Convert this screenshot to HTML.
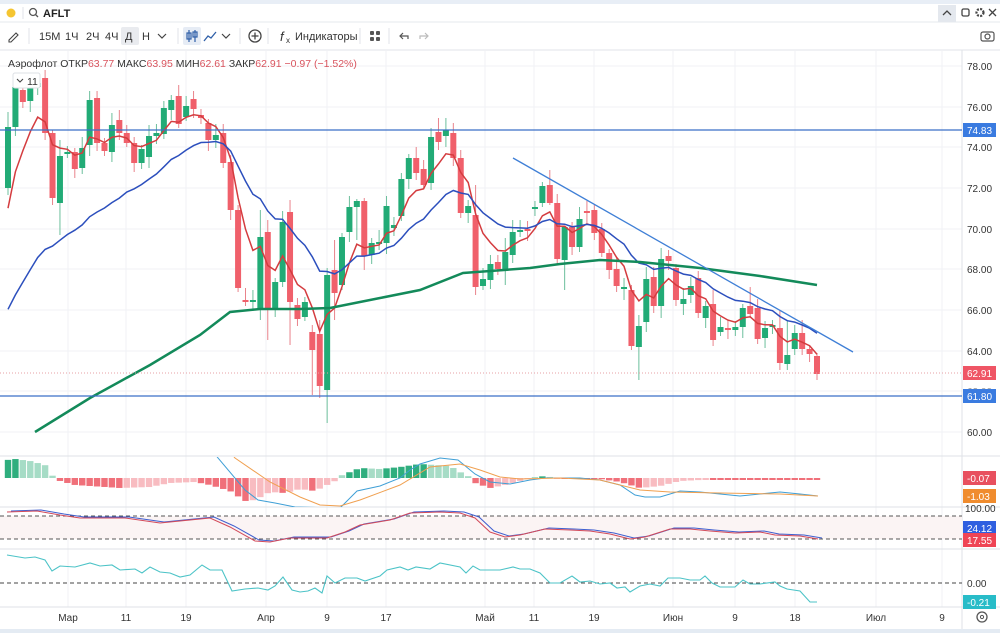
<!DOCTYPE html>
<html><head><meta charset="utf-8">
<style>
html,body{margin:0;padding:0;background:#fff;width:1000px;height:633px;overflow:hidden;font-family:"Liberation Sans","DejaVu Sans",sans-serif;}
svg text{font-family:"Liberation Sans","DejaVu Sans",sans-serif;}
</style></head>
<body>
<svg id="s" width="1000" height="633" xmlns="http://www.w3.org/2000/svg">
<rect x="0" y="0" width="1000" height="633" fill="#fff"/>
<rect x="0" y="0" width="1000" height="4" fill="#e8eef6"/>
<line x1="0" y1="22" x2="1000" y2="22" stroke="#e6e8ec"/>
<line x1="0" y1="50" x2="1000" y2="50" stroke="#e0e3e8"/>
<circle cx="11" cy="13" r="4.5" fill="#f5c531"/>
<line x1="23" y1="7" x2="23" y2="19" stroke="#e0e3e8"/>
<circle cx="33" cy="12" r="3.5" fill="none" stroke="#555" stroke-width="1.3"/>
<line x1="35.5" y1="14.5" x2="38" y2="17" stroke="#555" stroke-width="1.3"/>
<text x="43" y="17" font-size="11" font-weight="bold" fill="#222">AFLT</text>
<rect x="938" y="5" width="18" height="17" fill="#e4e8ee"/>
<path d="M943 15 L947 11 L951 15" fill="none" stroke="#444" stroke-width="1.3"/>
<rect x="962" y="9" width="7" height="7" rx="1.5" fill="none" stroke="#444" stroke-width="1.3"/>
<circle cx="980" cy="12.5" r="3.5" fill="none" stroke="#444" stroke-width="2.2" stroke-dasharray="2 1.3"/>
<path d="M989 9 L996 16 M996 9 L989 16" stroke="#444" stroke-width="1.3"/>
<!-- toolbar -->
<path d="M9 40 L16 33 L18 35 L11 42 L9 42 Z" fill="none" stroke="#444" stroke-width="1.1"/>
<line x1="29" y1="28" x2="29" y2="44" stroke="#e0e3e8"/>
<g font-size="11" fill="#333">
<text x="39" y="40">15M</text><text x="65" y="40">1Ч</text><text x="86" y="40">2Ч</text><text x="105" y="40">4Ч</text>
<rect x="121" y="27" width="18" height="18" rx="2" fill="#e9ebef"/>
<text x="125" y="40">Д</text><text x="142" y="40">Н</text>
</g>
<path d="M158 34 L162 38 L166 34" fill="none" stroke="#444" stroke-width="1.2"/>
<line x1="178" y1="28" x2="178" y2="44" stroke="#e0e3e8"/>
<rect x="183" y="27" width="18" height="18" rx="2" fill="#e6ecf5"/>
<g stroke="#2f5fa8" stroke-width="1.2" fill="none"><line x1="189" y1="30" x2="189" y2="42"/><rect x="187" y="33" width="4" height="6"/><line x1="195" y1="30" x2="195" y2="42"/><rect x="193" y="32" width="4" height="5"/></g>
<path d="M204 41 L208 36 L211 38 L216 32" fill="none" stroke="#2f5fa8" stroke-width="1.3"/>
<path d="M222 34 L226 38 L230 34" fill="none" stroke="#444" stroke-width="1.2"/>
<line x1="240" y1="28" x2="240" y2="44" stroke="#e0e3e8"/>
<circle cx="255" cy="36" r="6" fill="none" stroke="#444" stroke-width="1.3"/>
<path d="M255 32.5 V39.5 M251.5 36 H258.5" stroke="#444" stroke-width="1.3"/>
<line x1="268" y1="28" x2="268" y2="44" stroke="#e0e3e8"/>
<text x="280" y="41" font-size="13" font-style="italic" fill="#333">f</text><text x="286" y="43" font-size="8" fill="#333">x</text>
<text x="295" y="40" font-size="11" fill="#333">Индикаторы</text>
<line x1="360" y1="28" x2="360" y2="44" stroke="#e0e3e8"/>
<g fill="#555"><rect x="370" y="31" width="4" height="4" rx="1"/><rect x="376" y="31" width="4" height="4" rx="1"/><rect x="370" y="37" width="4" height="4" rx="1"/><rect x="376" y="37" width="4" height="4" rx="1"/></g>
<line x1="389" y1="28" x2="389" y2="44" stroke="#e0e3e8"/>
<path d="M408 39 V36 H400 M403 33 L400 36 L403 39" fill="none" stroke="#555" stroke-width="1.2"/>
<path d="M420 39 V36 H428 M425 33 L428 36 L425 39" fill="none" stroke="#bbb" stroke-width="1.2"/>
<rect x="981" y="32" width="13" height="9" rx="2" fill="none" stroke="#555" stroke-width="1.2"/>
<circle cx="987.5" cy="36.5" r="2.5" fill="none" stroke="#555" stroke-width="1.2"/>
<g id="grid"></g>
<g id="main"></g>
<g id="ind"></g>
<g id="axis"></g>
</svg>
<script>
var NS="http://www.w3.org/2000/svg";
function el(p,t,a,txt){var e=document.createElementNS(NS,t);for(var k in a)e.setAttribute(k,a[k]);if(txt!==undefined)e.textContent=txt;p.appendChild(e);return e;}
var G=document.getElementById('grid'),M=document.getElementById('main'),I=document.getElementById('ind'),A=document.getElementById('axis');
var AX=962;
var xs=[68,126,186,266,327,386,485,534,594,673,735,795,876,942];
xs.forEach(function(x){el(G,'line',{x1:x,y1:51,x2:x,y2:607,stroke:'#f0f2f5'});});
[66,107,147,188,229,269,310,351,391,432].forEach(function(y){el(G,'line',{x1:0,y1:y,x2:AX,y2:y,stroke:'#f0f2f5'});});
[456,507,549,607].forEach(function(y){el(G,'line',{x1:0,y1:y,x2:1000,y2:y,stroke:'#dfe2e7'});});
el(G,'line',{x1:AX,y1:50,x2:AX,y2:633,stroke:'#dfe2e7'});
el(G,'rect',{x:0,y:516,width:AX,height:23,fill:'#fbf4f4'});
var C=[[127,188,1],[87,127,1],[90,102,0],[87,101,1],[83,87,1],[78,133,0],[133,198,0],[156,203,1],[152,154,1],[152,169,0],[148,168,1],[100,145,1],[98,143,0],[143,151,0],[125,152,1],[120,133,0],[133,143,0],[143,163,0],[149,163,1],[136,157,1],[133,136,1],[108,134,1],[100,110,1],[96,124,0],[106,117,1],[99,109,0],[115,118,0],[123,140,0],[135,140,1],[133,163,0],[162,210,0],[210,288,0],[300,302,0],[300,302,1],[237,310,1],[232,310,0],[282,309,1],[222,282,1],[212,302,0],[305,319,0],[302,317,1],[332,350,0],[334,386,0],[275,390,1],[270,293,0],[237,285,1],[207,232,1],[201,207,1],[201,256,0],[243,255,1],[242,244,1],[206,243,1],[225,228,1],[179,216,1],[158,179,1],[158,173,0],[169,185,0],[137,183,1],[132,142,0],[130,136,1],[133,158,0],[158,213,0],[206,213,1],[215,287,0],[279,286,1],[264,280,1],[262,269,0],[252,269,1],[232,255,1],[230,232,1],[229,231,0],[207,209,1],[186,203,1],[185,203,0],[203,259,0],[227,260,1],[227,247,0],[219,247,1],[211,213,0],[210,233,0],[229,253,0],[253,270,0],[269,286,0],[287,289,1],[290,346,0],[326,347,1],[279,322,1],[277,306,0],[259,306,1],[256,261,0],[268,300,0],[299,304,1],[286,295,1],[278,313,0],[306,318,1],[304,340,0],[327,332,1],[328,330,0],[327,330,1],[308,327,1],[306,314,0],[308,339,0],[328,338,1],[325,327,1],[328,363,0],[355,364,1],[333,349,1],[333,349,0],[349,354,0],[356,374,0]];
var wk={0:[112,195],5:[70,140],6:[130,205],7:[140,235],23:[85,128],31:[205,292],34:[210,320],35:[220,340],38:[200,345],41:[325,395],42:[320,398],43:[268,423],44:[240,320],47:[199,240],48:[198,270],57:[128,190],58:[118,150],63:[185,295],67:[238,285],73:[170,205],75:[230,290],79:[205,240],84:[285,350],85:[315,380],88:[248,318],95:[290,346],100:[287,318],104:[310,370],105:[320,370],107:[320,355],109:[353,380]};
var step=(817-8)/109, closes=[];
C.forEach(function(c,i){
  var x=8+i*step, col=c[2]?'#22ab76':'#f0606b', wc=c[2]?'#6cbf9c':'#e9838b';
  var w=wk[i]||[c[0]-4-(i*7%9),c[1]+4+(i*5%8)];
  el(M,'line',{x1:x,y1:w[0],x2:x,y2:w[1],stroke:wc,'stroke-width':1});
  el(M,'rect',{x:x-3,y:c[0],width:6,height:Math.max(1.5,c[1]-c[0]),fill:col});
  closes.push(c[2]?c[0]:c[1]);
});
function ema(arr,af,seed){var v=seed,o=[];arr.forEach(function(y,i){v=v+af(i)*(y-v);o.push(v);});return o;}
var red=ema(closes,function(){return 0.3;},243), blue=ema(closes,function(i){return i<16?0.065:0.11;},322);
function pl(arr){return arr.map(function(v,i){return (8+i*step).toFixed(1)+','+v.toFixed(1);}).join(' ');}
el(M,'polyline',{points:pl(red),fill:'none',stroke:'#d43c3f','stroke-width':1.5});
el(M,'polyline',{points:pl(blue),fill:'none',stroke:'#2c4fbd','stroke-width':1.5});
el(M,'polyline',{points:'35,432 90,398 150,365 200,335 230,312 260,309 300,309 330,308 380,298 420,290 463,273 530,268 560,264 600,260 640,262 700,268 760,276 817,285',fill:'none',stroke:'#138a5a','stroke-width':2.5});
el(M,'line',{x1:0,y1:130,x2:AX,y2:130,stroke:'#3a6fc6','stroke-width':1.3});
el(M,'line',{x1:0,y1:396,x2:AX,y2:396,stroke:'#3a6fc6','stroke-width':1.3});
el(M,'line',{x1:0,y1:373,x2:AX,y2:373,stroke:'#e7a0a5','stroke-width':1,'stroke-dasharray':'1 2'});
el(M,'line',{x1:513,y1:158,x2:853,y2:352,stroke:'#3f7fd6','stroke-width':1.3});
var lg=el(M,'text',{x:8,y:67,'font-size':10.5,fill:'#333'});
[['Аэрофлот ','#333'],['ОТКР','#333'],['63.77 ','#d9545e'],['МАКС','#333'],['63.95 ','#d9545e'],['МИН','#333'],['62.61 ','#d9545e'],['ЗАКР','#333'],['62.91 ','#d9545e'],['−0.97 (−1.52%)','#d9545e']].forEach(function(p){el(lg,'tspan',{fill:p[1]},p[0]);});
el(M,'rect',{x:13,y:73,width:27,height:15,rx:2,fill:'#fff',stroke:'#dde0e5'});
el(M,'path',{d:'M17 79 L20 82 L23 79',fill:'none',stroke:'#444','stroke-width':1.1});
el(M,'text',{x:27,y:85,'font-size':10.5,fill:'#333'},'11');
var hk=[[7,18],[15,19],[30,17],[45,13],[50,4],[56,0],[60,-3],[75,-7],[90,-8],[120,-10],[150,-9],[170,-5],[195,-4],[210,-7],[230,-13],[245,-23],[255,-22],[270,-14],[285,-15],[300,-11],[315,-13],[325,-8],[335,-3],[340,2],[350,6],[360,10],[380,9],[400,11],[420,14],[450,12],[460,6],[468,2],[475,-5],[490,-10],[505,-7],[520,-3],[530,0],[545,2],[560,-1],[600,-1],[620,-4],[640,-10],[660,-8],[680,-3],[700,-2],[760,-2],[818,-2]];
function hv(x){for(var i=0;i<hk.length-1;i++){if(x>=hk[i][0]&&x<=hk[i+1][0]){var t=(x-hk[i][0])/(hk[i+1][0]-hk[i][0]);return hk[i][1]+t*(hk[i+1][1]-hk[i][1]);}}return 0;}
var prev=0;
for(var i=0;i<110;i++){var x=8+i*step,h=hv(x),col;
  if(h>=0)col=(Math.abs(h)>=Math.abs(prev))?'#2fae7e':'#a6dcc6';else col=(Math.abs(h)>=Math.abs(prev))?'#f0707a':'#f8bcc1';
  prev=h; var hh=Math.max(1,Math.abs(h));
  el(I,'rect',{x:x-3.2,y:h>=0?478-hh:478,width:6.4,height:hh,fill:col});}
var clip=el(I,'clipPath',{id:'cp'});el(clip,'rect',{x:0,y:457,width:AX,height:50});
var mg=el(I,'g',{'clip-path':'url(#cp)'});
el(mg,'polyline',{points:'212,450 218,458 245,490 258,500 275,503 295,507 340,508 357,491 380,486 400,478 410,470 420,464 440,458 458,460 475,474 490,482 510,484 530,480 545,478 580,478 600,480 620,485 635,495 645,497 660,497 680,491 700,492 720,494 740,496 760,494 780,492 800,494 818,496',fill:'none',stroke:'#3f9fd6','stroke-width':1});
el(mg,'polyline',{points:'230,452 235,458 270,482 300,497 320,505 340,506 360,500 400,485 430,467 460,464 480,470 500,477 520,479 560,478 600,480 640,490 670,492 720,493 780,494 818,496',fill:'none',stroke:'#f0a050','stroke-width':1});
el(I,'line',{x1:0,y1:516,x2:AX,y2:516,stroke:'#555','stroke-dasharray':'4 3'});
el(I,'line',{x1:0,y1:539,x2:AX,y2:539,stroke:'#555','stroke-dasharray':'4 3'});
var rp='7,512 37,511 60,515 80,518 100,518 125,518 160,523 190,520 210,518 230,527 255,541 270,542 290,538 310,538 327,538 345,532 360,525 390,520 410,513 440,512 460,513 475,518 490,532 505,537 520,535 545,529 570,530 590,531 610,534 630,539 645,537 670,529 690,529 710,531 735,533 760,532 775,535 800,536 818,539';
el(I,'polyline',{points:rp,fill:'none',stroke:'#3f5fcf','stroke-width':1,transform:'translate(4,-1)'});
el(I,'polyline',{points:rp,fill:'none',stroke:'#d24a5a','stroke-width':1});
el(I,'line',{x1:0,y1:583,x2:AX,y2:583,stroke:'#444','stroke-dasharray':'4 3'});
el(I,'polyline',{points:'7,555 25,558 35,557 45,560 52,571 60,566 75,567 90,563 100,566 112,565 120,570 135,569 142,573 150,567 160,572 170,573 180,577 190,575 202,565 210,570 222,570 232,591 245,589 258,588 268,590 275,586 283,577 292,590 300,592 308,591 315,588 322,593 327,576 335,583 345,578 357,578 365,581 380,576 387,570 400,567 408,570 416,567 430,569 440,563 460,567 466,573 473,566 480,570 500,570 513,567 520,569 530,569 540,573 550,583 560,583 572,576 580,582 590,581 600,584 610,583 617,588 625,587 630,592 640,586 650,584 660,586 668,578 680,578 690,580 700,580 705,576 712,583 720,587 735,587 743,580 750,584 760,584 775,582 780,586 787,589 800,591 810,602 817,602',fill:'none',stroke:'#4cc3c7','stroke-width':1.1});
var pl2=[[66,'78.00'],[107,'76.00'],[147,'74.00'],[188,'72.00'],[229,'70.00'],[269,'68.00'],[310,'66.00'],[351,'64.00'],[432,'60.00']];
pl2.forEach(function(p){el(A,'text',{x:967,y:p[0]+4,'font-size':10,fill:'#333'},p[1]);});
el(A,'text',{x:967,y:395,'font-size':10,fill:'#999'},'62.00');
el(A,'text',{x:965,y:512,'font-size':10,fill:'#333'},'100.00');
el(A,'text',{x:967,y:587,'font-size':10,fill:'#333'},'0.00');
function box(y,t,c){el(A,'rect',{x:963,y:y-7,width:33,height:14,fill:c});el(A,'text',{x:967,y:y+4,'font-size':10,fill:'#fff'},t);}
box(130,'74.83','#3a7be0');box(373,'62.91','#ef5565');box(396,'61.80','#3a7be0');
box(478,'-0.07','#e8505f');box(496,'-1.03','#f08c2e');
box(528,'24.12','#2f5fe0');box(540,'17.55','#ef4455');box(602,'-0.21','#28bcc8');
[[68,'Мар'],[126,'11'],[186,'19'],[266,'Апр'],[327,'9'],[386,'17'],[485,'Май'],[534,'11'],[594,'19'],[673,'Июн'],[735,'9'],[795,'18'],[876,'Июл'],[942,'9']].forEach(function(p){el(A,'text',{x:p[0],y:621,'font-size':10,fill:'#333','text-anchor':'middle'},p[1]);});
el(A,'circle',{cx:982,cy:617,r:5,fill:'none',stroke:'#555','stroke-width':1.3});
el(A,'circle',{cx:982,cy:617,r:1.6,fill:'none',stroke:'#555','stroke-width':1});
el(A,'rect',{x:0,y:629,width:1000,height:4,fill:'#e4ebf3'});
</script>
</body></html>
